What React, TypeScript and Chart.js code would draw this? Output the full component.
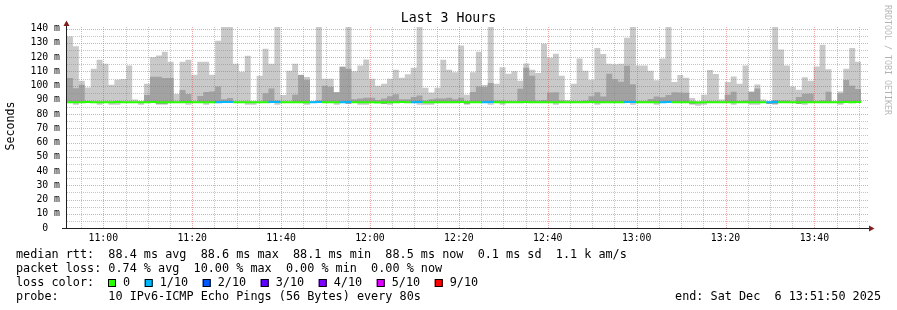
import React, { useEffect, useRef } from 'react';
import { Chart, registerables } from 'chart.js';

Chart.register(...registerables);

// ---------- data ----------
const WINDOW_START = '10:51:50';
const WINDOW_SECONDS = 3 * 3600;
const STEP_SECONDS = 80;

const titleText = 'Last 3 Hours';
const yAxisTitle = 'Seconds';
const watermark = 'RRDTOOL / TOBI OETIKER';

const timeTickLabels = ['11:00', '11:20', '11:40', '12:00', '12:20', '12:40', '13:00', '13:20', '13:40'];

// top of the smoke (max ping), ms
const maxRtt = [
  134.6, 127.6, 103.4, 98.7, 111.8, 118.2, 115.4, 100.6, 104.1, 104.6,
  114.2, 90.2, 89.2, 101.3, 120.0, 121.2, 123.8, 116.8, 94.2, 116.8,
  118.2, 107.6, 116.8, 116.8, 107.6, 131.5, 145, 145, 115.4, 109.7,
  121.0, 89.2, 107.0, 126.0, 115.4, 145, 93.5, 110.4, 115.4, 107.6,
  106.0, 89.3, 145, 104.8, 104.8, 95.4, 113.3, 145, 110.2, 114.2,
  118.3, 104.8, 99.9, 101.3, 104.9, 111.2, 105.5, 108.0, 112.5, 145,
  98.5, 95.2, 98.5, 118.2, 111.2, 109.5, 128.2, 93.6, 109.5, 123.8,
  100.4, 145, 101.3, 113.0, 108.3, 110.2, 103.4, 115.5, 111.2, 108.8,
  129.5, 119.6, 122.4, 107.0, 90.0, 101.3, 119.1, 110.4, 104.0, 126.5,
  122.3, 115.4, 115.0, 115.4, 133.6, 145, 114.2, 114.2, 110.5, 103.8,
  119.1, 145, 102.6, 107.5, 105.5, 91.4, 89.0, 93.6, 111.0, 108.2,
  90.2, 102.6, 106.4, 101.4, 114.2, 95.8, 100.8, 90.2, 89.2, 145,
  125.4, 114.2, 99.4, 97.1, 105.9, 103.4, 113.5, 128.7, 111.6, 89.4,
  95.9, 111.8, 126.4, 116.8,
];

// bottom of the smoke (min ping), ms
const minRtt = [
  87.8, 86.6, 87.8, 87.8, 87.8, 86.6, 87.8, 86.6, 86.6, 87.8,
  87.8, 87.8, 86.6, 87.8, 87.8, 86.6, 86.6, 87.8, 87.8, 87.8,
  86.6, 87.8, 87.8, 86.6, 87.8, 87.8, 87.8, 87.8, 87.8, 87.8,
  86.6, 86.6, 87.8, 87.8, 87.8, 86.6, 87.8, 87.8, 87.8, 87.8,
  86.6, 87.8, 87.8, 87.8, 87.8, 86.6, 87.8, 87.8, 87.8, 86.6,
  86.6, 87.8, 87.8, 87.8, 86.6, 87.8, 87.8, 87.8, 87.8, 86.6,
  86.6, 86.6, 87.8, 87.8, 87.8, 87.8, 87.8, 86.6, 87.8, 87.8,
  87.8, 86.6, 87.8, 86.6, 87.8, 87.8, 87.8, 87.8, 87.8, 87.8,
  87.8, 87.8, 86.6, 87.8, 87.8, 87.8, 87.8, 87.8, 87.8, 86.6,
  87.8, 87.8, 87.8, 87.8, 87.8, 86.6, 87.8, 87.8, 87.8, 86.6,
  87.8, 87.8, 87.8, 87.8, 87.8, 86.6, 85.9, 86.6, 87.8, 87.8,
  87.8, 87.8, 86.6, 87.8, 87.8, 86.6, 86.6, 87.8, 87.8, 86.6,
  87.8, 87.8, 87.8, 87.8, 86.6, 87.8, 87.8, 87.8, 87.8, 87.8,
  86.6, 87.8, 87.8, 87.8,
];

// darker inner band (middle pings), ms
const innerHigh = [
  105.3, 98.2, 100.6, 88.5, 88.5, 88.5, 88.5, 88.5, 88.5, 88.5,
  88.5, 88.5, 88.5, 93.5, 106.2, 106.2, 105.3, 105.3, 88.5, 97.0,
  94.2, 88.5, 92.8, 95.6, 95.9, 99.4, 90.5, 91.4, 88.5, 88.5,
  88.5, 88.5, 88.5, 94.7, 98.0, 89.5, 88.5, 88.5, 93.6, 107.4,
  104.1, 88.5, 89.5, 99.9, 99.2, 95.4, 113.3, 111.9, 90.5, 91.0,
  91.5, 91.5, 90.0, 91.0, 92.5, 94.0, 90.5, 90.5, 92.0, 93.0,
  89.5, 90.5, 91.0, 91.0, 91.5, 90.5, 91.5, 89.0, 95.5, 99.4,
  99.0, 101.8, 89.5, 89.5, 89.0, 89.0, 97.8, 112.5, 107.0, 89.5,
  90.0, 95.2, 95.4, 89.5, 88.5, 89.0, 89.0, 89.5, 92.6, 95.4,
  92.4, 108.3, 104.7, 102.8, 114.0, 101.0, 89.0, 89.0, 90.7, 92.4,
  91.9, 93.5, 95.4, 95.2, 95.0, 88.5, 88.5, 88.5, 89.0, 89.0,
  88.5, 93.6, 95.7, 89.0, 89.5, 95.8, 98.0, 88.5, 88.5, 90.0,
  89.5, 89.5, 88.5, 92.0, 94.3, 94.5, 89.0, 89.5, 95.7, 88.5,
  94.7, 104.0, 99.9, 97.6,
];

const innerLow = [
  88.0, 88.0, 88.0, 88.0, 88.0, 88.0, 88.0, 88.0, 88.0, 88.0,
  88.0, 88.0, 88.0, 88.0, 88.0, 87.1, 87.1, 88.0, 88.0, 88.0,
  88.0, 88.0, 88.0, 88.0, 88.0, 88.0, 88.0, 88.0, 88.0, 88.0,
  88.0, 88.0, 88.0, 88.0, 88.0, 88.0, 88.0, 88.0, 88.0, 88.0,
  88.0, 88.0, 88.0, 88.0, 88.0, 88.0, 88.0, 87.1, 88.0, 88.0,
  88.0, 88.0, 88.0, 87.1, 88.0, 88.0, 88.0, 88.0, 88.0, 88.0,
  88.0, 88.0, 88.0, 88.0, 88.0, 88.0, 88.0, 87.1, 88.0, 88.0,
  88.0, 88.0, 88.0, 88.0, 88.0, 88.0, 88.0, 88.0, 88.0, 88.0,
  88.0, 88.0, 88.0, 88.0, 88.0, 88.0, 88.0, 88.0, 88.0, 88.0,
  88.0, 88.0, 88.0, 88.0, 88.0, 88.0, 88.0, 88.0, 88.0, 88.0,
  88.0, 88.0, 88.0, 88.0, 88.0, 87.1, 88.0, 88.0, 88.0, 88.0,
  88.0, 88.0, 88.0, 88.0, 88.0, 88.0, 88.0, 88.0, 87.1, 87.1,
  88.0, 88.0, 88.0, 87.1, 88.0, 88.0, 88.0, 88.0, 88.0, 88.0,
  88.0, 88.0, 88.0, 88.0,
];

const medianRtt = [
  88.3, 88.4, 88.4, 88.5, 88.4, 88.3, 88.4, 88.4, 88.5, 88.4,
  88.4, 88.3, 88.4, 88.4, 88.5, 88.4, 88.4, 88.3, 88.4, 88.4,
  88.5, 88.4, 88.4, 88.3, 88.4, 88.4, 88.5, 88.5, 88.4, 88.4,
  88.3, 88.4, 88.4, 88.4, 88.5, 88.5, 88.4, 88.3, 88.4, 88.4,
  88.4, 88.4, 88.5, 88.4, 88.4, 88.3, 88.4, 88.5, 88.4, 88.4,
  88.4, 88.3, 88.1, 88.4, 88.4, 88.4, 88.5, 88.4, 88.4, 88.5,
  88.4, 88.3, 88.4, 88.4, 88.4, 88.4, 88.5, 88.4, 88.4, 88.4,
  88.4, 88.6, 88.4, 88.4, 88.3, 88.4, 88.4, 88.5, 88.4, 88.4,
  88.4, 88.4, 88.4, 88.3, 88.4, 88.4, 88.4, 88.4, 88.5, 88.4,
  88.4, 88.4, 88.4, 88.4, 88.5, 88.5, 88.4, 88.3, 88.4, 88.4,
  88.4, 88.5, 88.4, 88.4, 88.4, 88.3, 88.2, 88.3, 88.4, 88.4,
  88.4, 88.4, 88.4, 88.4, 88.4, 88.4, 88.4, 88.3, 88.4, 88.5,
  88.4, 88.4, 88.4, 88.4, 88.4, 88.4, 88.4, 88.4, 88.4, 88.4,
  88.4, 88.5, 88.4, 88.5,
];

// lost pings out of 10 per step
const lossTenths = [
  0, 0, 0, 0, 0, 0, 0, 0, 0, 0,
  0, 0, 0, 0, 0, 0, 0, 0, 0, 0,
  0, 0, 0, 0, 0, 1, 1, 1, 0, 0,
  0, 0, 0, 0, 1, 1, 0, 0, 0, 0,
  0, 1, 1, 0, 0, 0, 1, 1, 0, 0,
  0, 0, 0, 0, 0, 0, 0, 0, 1, 1,
  0, 0, 0, 0, 0, 0, 0, 0, 0, 0,
  1, 1, 0, 0, 0, 0, 0, 0, 0, 0,
  0, 0, 0, 0, 0, 0, 0, 0, 0, 0,
  0, 0, 0, 0, 1, 1, 0, 0, 0, 0,
  1, 1, 0, 0, 0, 0, 0, 0, 0, 0,
  0, 0, 0, 0, 0, 0, 0, 0, 1, 1,
  0, 0, 0, 0, 0, 0, 0, 0, 0, 0,
  0, 0, 0, 0,
];

const lossLevels = [0, 1, 2, 3, 4, 5, 9];
const lossLabels = ['0', '1/10', '2/10', '3/10', '4/10', '5/10', '9/10'];
const lossColors = ['#26ff00', '#00b8ff', '#0059ff', '#5e00ff', '#7e00ff', '#dd00ff', '#ff0000'];

const legendMedian = 'median rtt:  88.4 ms avg  88.6 ms max  88.1 ms min  88.5 ms now  0.1 ms sd  1.1 k am/s';
const legendLoss = 'packet loss: 0.74 % avg  10.00 % max  0.00 % min  0.00 % now';
const legendLossColor = 'loss color:';
const legendProbe = 'probe:       10 IPv6-ICMP Echo Pings (56 Bytes) every 80s';
const legendEnd = 'end: Sat Dec  6 13:51:50 2025';

// ---------- helpers ----------
const toSec = (s: string) => {
  const p = s.split(':').map(Number);
  return p[0] * 3600 + p[1] * 60 + (p[2] || 0);
};
const startTod = toSec(WINDOW_START);
const tickSeconds = timeTickLabels.map((l) => toSec(l) - startTod);

const lossColor = (n: number) => {
  let c = lossColors[0];
  for (let i = 0; i < lossLevels.length; i++) if (n >= lossLevels[i]) c = lossColors[i];
  return c;
};

const toPts = (arr: number[]) => {
  const pts = arr.map((y, i) => ({ x: i * STEP_SECONDS, y }));
  pts.push({ x: arr.length * STEP_SECONDS, y: arr[arr.length - 1] });
  return pts;
};

const MONO = '"DejaVu Sans Mono", monospace';
const GRID = 'rgba(140,140,140,0.5)';
const MGRID = 'rgba(222,79,79,0.5)';
const ARROW = 'rgb(128,31,31)';
const AXIS = 'rgb(31,31,31)';

const rrdPlugin = {
  id: 'rrdDecor',
  beforeDatasetDraw(chart: any, args: any) {
    if (args.index !== 0) return;
    const { ctx, chartArea: a, scales } = chart;
    const xs = scales.x;
    const ys = scales.y;
    ctx.save();
    ctx.lineWidth = 1;
    ctx.setLineDash([1, 1]);
    // horizontal
    for (let v = 5; v <= ys.max; v += 5) {
      const y = Math.round(ys.getPixelForValue(v)) + 0.5;
      ctx.strokeStyle = v % 10 === 0 ? MGRID : GRID;
      ctx.beginPath();
      ctx.moveTo(a.left, y);
      ctx.lineTo(a.right + 1, y);
      ctx.stroke();
    }
    // vertical
    const first = Math.ceil(startTod / 300) * 300;
    for (let tod = first; tod - startTod <= WINDOW_SECONDS; tod += 300) {
      const x = Math.round(xs.getPixelForValue(tod - startTod)) + 0.5;
      ctx.strokeStyle = tod % 1200 === 0 ? MGRID : GRID;
      ctx.beginPath();
      ctx.moveTo(x, a.top);
      ctx.lineTo(x, a.bottom);
      ctx.stroke();
    }
    ctx.restore();
  },
  afterDraw(chart: any) {
    const { ctx, chartArea: a } = chart;
    ctx.save();
    // axes
    ctx.setLineDash([]);
    ctx.strokeStyle = AXIS;
    ctx.lineWidth = 1;
    const yb = a.bottom + 0.5;
    ctx.beginPath();
    ctx.moveTo(a.left - 5, yb);
    ctx.lineTo(a.right + 2, yb);
    ctx.stroke();
    const xl = a.left - 0.5;
    ctx.beginPath();
    ctx.moveTo(xl, a.bottom + 1);
    ctx.lineTo(xl, a.top - 2);
    ctx.stroke();
    ctx.fillStyle = ARROW;
    ctx.beginPath();
    ctx.moveTo(xl - 3, a.top - 1);
    ctx.lineTo(xl + 3, a.top - 1);
    ctx.lineTo(xl, a.top - 6.5);
    ctx.closePath();
    ctx.fill();
    ctx.beginPath();
    ctx.moveTo(a.right + 2, yb - 3);
    ctx.lineTo(a.right + 2, yb + 3);
    ctx.lineTo(a.right + 7.5, yb);
    ctx.closePath();
    ctx.fill();

    // title
    ctx.fillStyle = '#000';
    ctx.textBaseline = 'middle';
    ctx.textAlign = 'center';
    ctx.font = `13.2px ${MONO}`;
    ctx.fillText(titleText, chart.width / 2, 19);

    // y axis title
    ctx.save();
    ctx.font = `11.6px ${MONO}`;
    ctx.translate(10.5, 126);
    ctx.rotate(-Math.PI / 2);
    ctx.fillText(yAxisTitle, 0, 0);
    ctx.restore();

    // watermark
    ctx.save();
    ctx.fillStyle = 'rgba(0,0,0,0.3)';
    ctx.font = `8.3px ${MONO}`;
    ctx.textAlign = 'left';
    ctx.translate(887, 5);
    ctx.rotate(Math.PI / 2);
    ctx.fillText(watermark, 0, 0);
    ctx.restore();

    // legend
    ctx.font = `11.8px ${MONO}`;
    ctx.textAlign = 'left';
    ctx.fillStyle = '#000';
    const lx = 16;
    ctx.fillText(legendMedian, lx, 254.5);
    ctx.fillText(legendLoss, lx, 268.5);
    ctx.fillText(legendLossColor, lx, 282.5);
    let sx = 108;
    for (let i = 0; i < lossLabels.length; i++) {
      ctx.fillStyle = lossColors[i];
      ctx.fillRect(sx, 279, 8, 8);
      ctx.strokeStyle = '#000';
      ctx.strokeRect(sx + 0.5, 279.5, 7, 7);
      ctx.fillStyle = '#000';
      const tx = sx + 15;
      ctx.fillText(lossLabels[i], tx, 282.5);
      sx = tx + ctx.measureText(lossLabels[i]).width + 14.6;
    }
    ctx.fillText(legendProbe, lx, 296.5);
    ctx.textAlign = 'right';
    ctx.fillText(legendEnd, 881, 296.5);
    ctx.restore();
  },
};

export default function App() {
  const ref = useRef<HTMLCanvasElement>(null);
  useEffect(() => {
    const canvas = ref.current;
    if (!canvas) return;
    const hidden = 'rgba(0,0,0,0)';
    const stepMode = 'before';
    const chart = new Chart(canvas, {
      type: 'line',
      data: {
        datasets: [
          {
            label: 'median rtt',
            data: toPts(medianRtt),
            stepped: stepMode,
            borderWidth: 2,
            borderColor: lossColors[0],
            fill: false,
            pointRadius: 0,
            segment: {
              borderColor: (c: any) => lossColor(lossTenths[Math.min(c.p0DataIndex, lossTenths.length - 1)]),
            },
          },
          {
            label: 'inner high',
            data: toPts(innerHigh),
            stepped: stepMode,
            borderColor: hidden,
            borderWidth: 1,
            backgroundColor: '#a2a2a2',
            fill: '+1',
            pointRadius: 0,
          },
          {
            label: 'inner low',
            data: toPts(innerLow),
            stepped: stepMode,
            borderColor: hidden,
            borderWidth: 1,
            fill: false,
            pointRadius: 0,
          },
          {
            label: 'max',
            data: toPts(maxRtt),
            stepped: stepMode,
            borderColor: hidden,
            borderWidth: 1,
            backgroundColor: '#c9c9c9',
            fill: '+1',
            pointRadius: 0,
          },
          {
            label: 'min',
            data: toPts(minRtt),
            stepped: stepMode,
            borderColor: hidden,
            borderWidth: 1,
            fill: false,
            pointRadius: 0,
          },
        ],
      } as any,
      options: {
        responsive: false,
        animation: false,
        devicePixelRatio: 1,
        layout: { padding: { left: 0, right: 30, top: 27, bottom: 0 } },
        plugins: {
          legend: { display: false },
          title: { display: false },
          tooltip: { enabled: false },
        },
        elements: { point: { radius: 0 } },
        scales: {
          x: {
            type: 'linear',
            min: 0,
            max: WINDOW_SECONDS,
            grid: { display: false, drawTicks: false },
            border: { display: false },
            afterBuildTicks: (s: any) => {
              s.ticks = tickSeconds.map((v) => ({ value: v }));
            },
            afterFit: (s: any) => {
              s.height = 82;
            },
            ticks: {
              autoSkip: false,
              maxRotation: 0,
              minRotation: 0,
              padding: 5,
              color: '#000',
              font: { family: 'DejaVu Sans Mono', size: 9.8 },
              callback: (_v: any, i: number) => timeTickLabels[i],
            },
          },
          y: {
            type: 'linear',
            min: 0,
            max: 141.2,
            grid: { display: false, drawTicks: false },
            border: { display: false },
            afterFit: (s: any) => {
              s.width = 67;
            },
            ticks: {
              stepSize: 10,
              maxTicksLimit: 30,
              autoSkip: false,
              includeBounds: false,
              padding: 7,
              color: '#000',
              font: { family: 'DejaVu Sans Mono', size: 9.8 },
              callback: (v: any) => (Number(v) === 0 ? '0  ' : `${v} m`),
            },
          },
        },
      } as any,
      plugins: [rrdPlugin as any],
    });
    return () => chart.destroy();
  }, []);
  return (
    <div style={{ position: 'absolute', left: 0, top: 0, width: 897, height: 310, background: '#fff' }}>
      <canvas ref={ref} width={897} height={310} style={{ display: 'block', width: 897, height: 310 }} />
    </div>
  );
}
